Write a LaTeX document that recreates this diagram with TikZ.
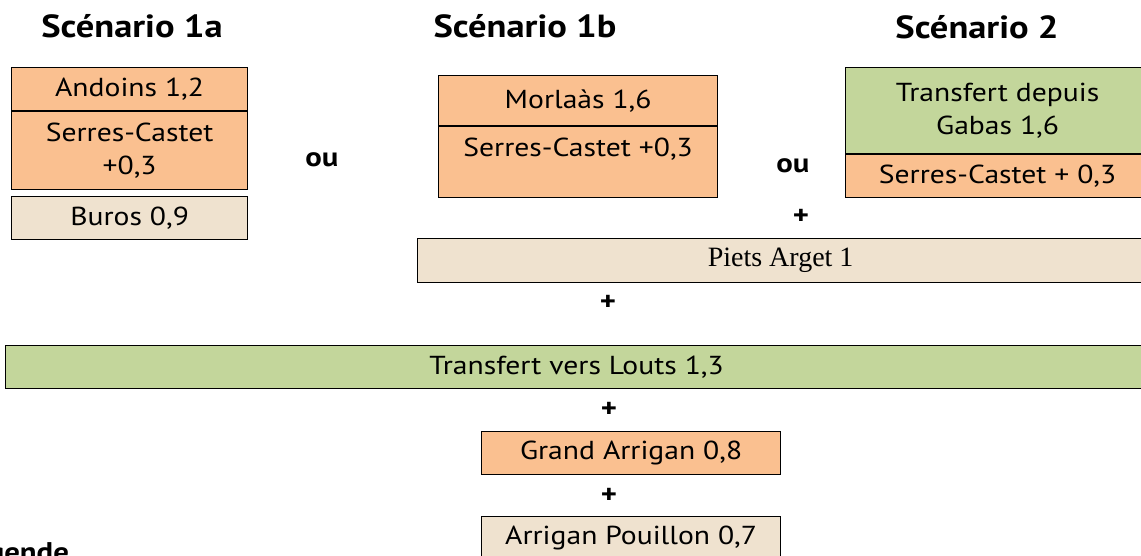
\documentclass[tikz,border=0pt]{standalone}
\usepackage{fontspec}
\setmainfont[FakeStretch=1.14]{PT Sans}
\newfontfamily\timesfont{Liberation Serif}
\usetikzlibrary{positioning}

\definecolor{cOrange}{HTML}{FAC090}
\definecolor{cGreen}{HTML}{C3D69B}
\definecolor{cSand}{HTML}{EFE2CF}

\begin{document}
\begin{tikzpicture}[
			x = 0.5pt, y = -0.5pt,
			cell/.style = {draw = black, line width = 0.6pt, inner sep = 0pt,
				anchor = north west, align = center,
				font = \fontsize{13}{16.5}\selectfont},
			orangecell/.style = {cell, fill = cOrange},
			greencell/.style = {cell, fill = cGreen},
			sandcell/.style = {cell, fill = cSand},
			title/.style = {font = \fontsize{16}{19}\selectfont\bfseries},
			sign/.style = {font = \fontsize{13.5}{16}\selectfont\bfseries}
			]
			
			\useasboundingbox (0,0) rectangle (1141,556);
			
			% Define titles
			\node[title] (t1a) at (132,26) {Scénario 1a};
			\node[title] (t1b) at (525,26) {Scénario 1b};
			\node[title] (t2) at (977,27) {Scénario 2};
			
			% Scénario 1a
			\node[orangecell, minimum width = 118pt, minimum height = 21.5pt] (andoins) at (11,67) {Andoins 1,2};
			\node[orangecell, minimum width = 118pt, minimum height = 39pt] (serres1a) at (andoins.south west) {Serres-Castet\\+0,3};
			\node[sandcell, minimum width = 118pt, minimum height = 21.5pt] (buros) at (11,196) {Buros 0,9};
			
			% Scénario 1b
			\node[orangecell, minimum width = 139.5pt, minimum height = 25pt] (morlaas) at (438,75) {Morlaàs 1,6};
			\node[orangecell, minimum width = 139.5pt, text height = 15pt, text depth = 20.5pt] (serres1b) at (morlaas.south west) {Serres-Castet +0,3};
			
			% Scénario 2
			\node[greencell, minimum width = 152pt, minimum height = 43pt] (gabas) at (845,67) {Transfert depuis\\Gabas 1,6};
			\node[orangecell, minimum width = 152pt, minimum height = 21.5pt] (serres2) at (gabas.south west) {Serres-Castet + 0,3};
			
			% Common parts
			\node[sandcell, minimum width = 363pt, minimum height = 22pt, font = \fontsize{14}{16}\timesfont] (piets) at (417,238) {Piets Arget 1};
			\node[greencell, minimum width = 571pt, minimum height = 21.5pt] (louts) at (5,345) {Transfert vers Louts 1,3};
			\node[orangecell, minimum width = 149.5pt, minimum height = 21.5pt] (grand) at (481,431) {Grand Arrigan 0,8};
			\node[sandcell, minimum width = 149.5pt, minimum height = 21.5pt] (pouillon) at (481,516) {Arrigan Pouillon 0,7};
			
			% Define signs
			\node[sign] (ou1) at (322,160) {ou};
			\node[sign] (ou2) at (793,166) {ou};
			\node[sign] (plus1) at (801,217) {+};
			\node[sign] (plus2) at (608,303) {+};
			\node[sign] (plus3) at (609,410) {+};
			\node[sign] (plus4) at (609,496) {+};
			\node[sign, anchor = base east] (legende) at (76,561) {Légende};
			
		\end{tikzpicture}
\end{document}
